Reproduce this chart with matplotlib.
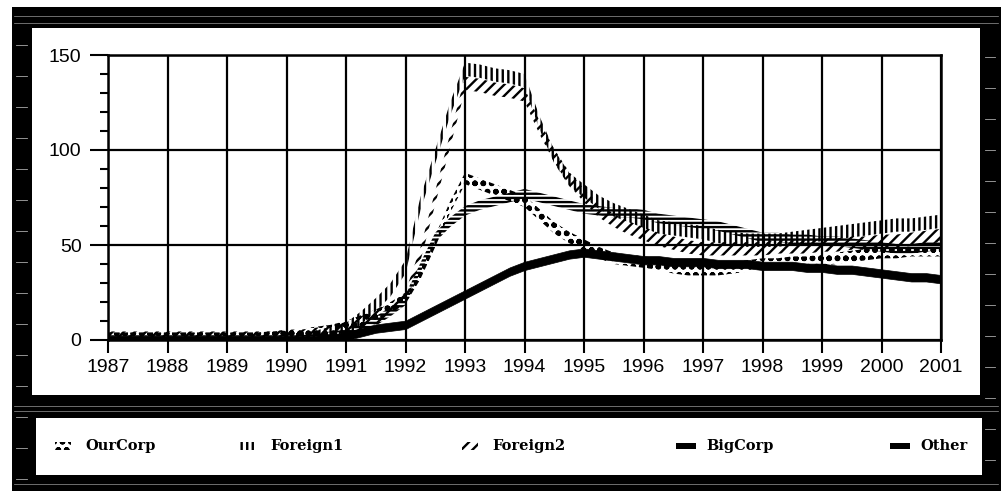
import numpy as np
import matplotlib
matplotlib.use('Agg')
import matplotlib.pyplot as plt
from matplotlib.patches import Rectangle

# ---- data (quarterly) ----
years = np.arange(1987, 2001.01, 0.25)

ourcorp = [1, 1, 1, 1,  1, 1, 1, 1,  1, 1, 1, 1.5,  2, 3, 4, 5,
           7, 10, 13, 17,  22, 35, 52, 70,  85, 82, 79, 76,  73, 66, 59, 54,
           50, 46, 43, 42,  41, 40, 38, 37,  37, 37, 38, 39,  40, 40, 41, 41,
           42, 43, 44, 45,  46, 46, 47, 47,  47]
foreign1 = [1, 1, 1, 1,  1, 1, 1, 1,  1, 1, 1, 2,  3, 4, 5, 7,
            9, 15, 22, 30,  42, 75, 100, 125,  146, 145, 143, 142,  140, 118, 100, 88,
            82, 76, 72, 69,  66, 63, 62, 61,  60, 58, 57, 56,  56, 56, 57, 58,
            59, 60, 61, 62,  63, 64, 64, 65,  66]
foreign2 = [1, 1, 1, 1,  1, 1, 1, 1,  1, 1, 1, 1,  2, 2, 3, 4,
            6, 9, 12, 16,  22, 45, 75, 105,  135, 134, 132, 131,  129, 112, 97, 85,
            76, 68, 63, 59,  56, 53, 51, 49,  48, 48, 48, 48,  48, 49, 49, 49,
            50, 50, 51, 51,  52, 52, 53, 54,  55]
bigcorp = [0, 0, 0, 0,  0, 0, 0, 0,  0, 0, 0, 0,  0, 0, 1, 2,
           3, 6, 10, 15,  21, 38, 54, 62,  68, 71, 73, 75,  77, 75, 73, 71,
           69, 68, 67, 67,  66, 64, 63, 62,  61, 60, 58, 56,  54, 54, 53, 53,
           52, 52, 51, 50,  49, 48, 48, 49,  50]
other = [0, 0, 0, 0,  0, 0, 0, 0,  0, 0, 0, 0,  0, 0, 0, 0.5,
         2, 4, 6, 7,  8, 12, 16, 20,  24, 28, 32, 36,  39, 41, 43, 45,
         46, 45, 44, 43,  42, 42, 41, 41,  41, 40, 40, 40,  39, 39, 39, 38,
         38, 37, 37, 36,  35, 34, 33, 33,  32]

names = ['OurCorp', 'Foreign1', 'Foreign2', 'BigCorp', 'Other']
series = [ourcorp, foreign1, foreign2, bigcorp, other]
hatches = ['oo', '|||', '///', '----', None]
# ribbon extent around each value (data units) for the patterned lines
bands = [(-3, 3), (-7, 0), (-3.5, 3.5), (-2.5, 2.5), (-2.2, 2.2)]

year_ticks = list(range(1987, 2002))
y_ticks = [0, 50, 100, 150]

plt.rcParams['hatch.linewidth'] = 1.7
tick_font = ['Liberation Sans', 'DejaVu Sans']
legend_font = ['DejaVu Serif']

W, H = 1001, 491
fig = plt.figure(figsize=(W / 100, H / 100), dpi=100)
fig.patch.set_facecolor('white')


def px_rect(x0, y0, x1, y1, **kw):
    # rectangle in pixel coords, origin top-left
    r = Rectangle((x0 / W, 1 - y1 / H), (x1 - x0) / W, (y1 - y0) / H,
                  transform=fig.transFigure, **kw)
    fig.add_artist(r)
    return r


def px_hline(x0, x1, y, **kw):
    fig.add_artist(plt.Line2D([x0 / W, x1 / W], [1 - y / H] * 2,
                              transform=fig.transFigure, **kw))


# black scanned frame around two white panels
px_rect(12, 7, W, H, facecolor='black', edgecolor='none', zorder=-10)
px_rect(32, 28, 980, 395, facecolor='white', edgecolor='none', zorder=-9)
px_rect(36, 418, 982, 475, facecolor='white', edgecolor='none', zorder=-9)
for yy in [16, 23, 406, 411, 484]:
    px_hline(14, 998, yy, color='#999999', lw=0.5, zorder=-8)
for yy in range(45, 480, 31):
    px_hline(16, 27, yy, color='#aaaaaa', lw=0.6, zorder=-8)
    px_hline(985, 995, yy + 12, color='#aaaaaa', lw=0.6, zorder=-8)

ax = fig.add_axes([108 / W, 1 - 340 / H, (941 - 108) / W, (340 - 55) / H])
ax.set_facecolor('white')

for vals, hatch, (lo, hi) in zip(series, hatches, bands):
    v = np.array(vals, dtype=float)
    if hatch is None:
        ax.fill_between(years, v + lo, v + hi, facecolor='black',
                        edgecolor='black', linewidth=0.5, zorder=3)
    else:
        ax.fill_between(years, v + lo, v + hi, facecolor='none',
                        edgecolor='black', hatch=hatch, linewidth=0, zorder=3)

ax.set_xlim(1987, 2001)
ax.set_ylim(0, 150)
ax.set_xticks(year_ticks)
ax.set_xticklabels([str(y) for y in year_ticks], family=tick_font, fontsize=14)
ax.set_yticks(y_ticks)
ax.set_yticklabels([str(y) for y in y_ticks], family=tick_font, fontsize=14)
ax.set_yticks(np.arange(0, 151, 10), minor=True)
ax.tick_params(axis='x', direction='out', length=9.5, width=1.5, pad=4)
ax.tick_params(axis='y', which='major', direction='out', length=13, width=1.5, pad=6)
ax.tick_params(axis='y', which='minor', direction='out', length=6, width=1.5)
ax.grid(True, which='major', color='black', linewidth=1.6)
ax.set_axisbelow(True)
for s in ax.spines.values():
    s.set_linewidth(1.8)

# legend strip
leg_marker_x = [55, 240, 462, 676, 890]
leg_y = 446
for name, hatch, mx in zip(names, hatches, leg_marker_x):
    if hatch is None or hatch == '----':
        px_rect(mx, leg_y - 3, mx + 20, leg_y + 3, facecolor='black',
                edgecolor='black', lw=0, zorder=2)
    else:
        px_rect(mx, leg_y - 4, mx + 16, leg_y + 4, facecolor='none',
                edgecolor='black', hatch=hatch, lw=0, zorder=2)
    fig.text((mx + 30) / W, 1 - leg_y / H, name, family=legend_font,
             fontsize=10.5, fontweight='bold', va='center', ha='left')

fig.savefig('out.png', dpi=100)
